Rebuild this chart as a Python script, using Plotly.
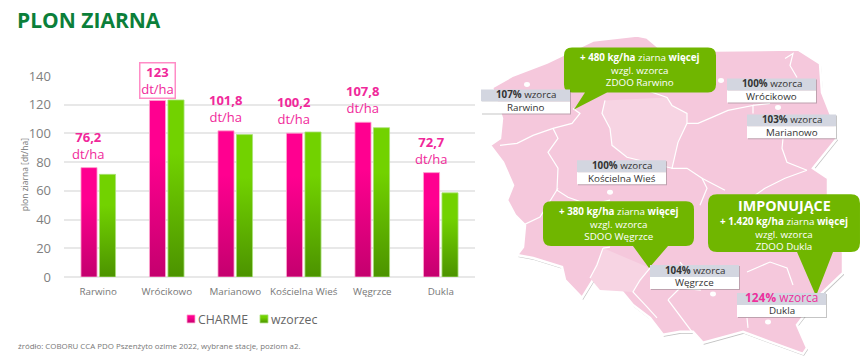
import plotly.graph_objects as go

# ---- data ----
stations = ["Rarwino", "Wrócikowo", "Marianowo", "Kościelna Wieś", "Węgrzce", "Dukla"]
charme = [76.2, 123, 101.8, 100.2, 107.8, 72.7]
wzorzec = [71.5, 123.3, 99.2, 101, 104, 58.6]
charme_labels = ["76,2", "123", "101,8", "100,2", "107,8", "72,7"]
y_ticks = [0, 20, 40, 60, 80, 100, 120, 140]

# map call-out boxes: pct, name, left, top
map_pct = ["107%", "100%", "103%", "100%", "104%", "124%"]
map_names = ["Rarwino", "Wrócikowo", "Marianowo", "Kościelna Wieś", "Węgrzce", "Dukla"]
map_left = [481, 727, 747, 577, 650, 737]
map_top = [89, 78, 114, 160, 265, 293]

FONT = "Open Sans"
L, R, T, B = 64, 475, 75.5, 277
W, H = R - L, B - T
def px(x): return (x - L) / W
def py(y): return 1 - (y - T) / H
def poly(pts, close=True):
    s = "M " + " L ".join(f"{px(x):.4f},{py(y):.4f}" for x, y in pts)
    return s + (" Z" if close else "")

outline = [(492,87),(513,75),(547,62),(593,40),(637,35),(647,37),(660,48),(715,50),(798,49),(820,63),(822,92),
           (835,125),(837,138),(813,168),(828,178),(828,195),(843,253),(843,273),(820,295),(797,325),(807,348),
           (803,354),(770,342),(743,332),(703,343),(693,332),(680,332),(663,335),(650,318),(633,305),(618,287),
           (593,280),(582,298),(565,280),(562,267),(533,258),(517,255),(523,247),(525,225),(515,215),(507,200),
           (513,185),(503,162),(490,145),(500,138),(502,118)]
regions = [
    [(573,108),(580,113),(572,123),(553,128),(533,135),(517,143),(500,145)],
    [(553,128),(558,138),(548,152),(558,168),(557,190),(568,197),(590,205),(610,200)],
    [(605,100),(602,113),(610,128),(612,145),(627,157),(672,168)],
    [(647,90),(667,97),(672,105),(687,113),(687,123),(678,142),(672,168),(687,168),(702,178),(707,188),(700,205)],
    [(687,123),(698,123),(712,117),(728,110),(753,105),(753,113)],
    [(753,105),(770,103)],
    [(785,58),(793,53),(790,65),(797,77)],
    [(783,138),(782,148),(787,162),(807,170)],
    [(807,170),(785,178),(765,188),(755,195)],
    [(523,225),(540,217),(558,188)],
    [(603,248),(597,265),(590,278)],
    [(610,247),(603,248)],
    [(650,268),(640,280),(633,292),(647,307),(657,318)],
    [(668,300),(680,288),(700,290),(690,275),(680,262)],
    [(747,272),(770,262),(787,268),(793,285)],
    [(747,318),(748,328)],
    [(692,332),(668,300)],
    [(702,178),(725,190)],
]
light_zone = [(605,100),(667,97),(672,105),(687,113),(687,123),(678,142),(672,168),(627,157),(612,145),(610,128),(602,113)]
light_zone2 = [(603,248),(650,268),(633,292),(600,290),(590,278)]
cities = [(527,84),(721,80),(778,107),(610,192),(713,294),(768,322)]

def rounded(x0, y0, x1, y1, r, tail):
    """Rounded box with a tail on the lower edge: tail = (base_left, base_right, tip_x, tip_y)."""
    bl, br, tx, ty = tail
    f = lambda x, y: f"{px(x):.4f},{py(y):.4f}"
    return (f"M {f(x0+r,y0)} L {f(x1-r,y0)} Q {f(x1,y0)} {f(x1,y0+r)} L {f(x1,y1-r)} Q {f(x1,y1)} {f(x1-r,y1)} "
            f"L {f(br,y1)} L {f(tx,ty)} L {f(bl,y1)} L {f(x0+r,y1)} Q {f(x0,y1)} {f(x0,y1-r)} L {f(x0,y0+r)} Q {f(x0,y0)} {f(x0+r,y0)} Z")

shapes = []
def sh(**k):
    k.setdefault("xref", "paper"); k.setdefault("yref", "paper"); k.setdefault("layer", "above")
    shapes.append(k)

# map body
sh(type="path", path=poly([(x+1, y+2) for x, y in outline]), fillcolor="rgba(120,120,120,0.45)", line=dict(width=0))
sh(type="path", path=poly(outline), fillcolor="#f5c8dc", line=dict(color="white", width=2.5))
sh(type="path", path=poly(light_zone), fillcolor="#f7d4e3", line=dict(width=0))
sh(type="path", path=poly(light_zone2), fillcolor="#f7d4e3", line=dict(width=0))
for r_ in regions:
    sh(type="path", path=poly(r_, close=False), line=dict(color="white", width=1.2))
for cx, cy in cities:
    sh(type="circle", x0=px(cx-3), x1=px(cx+3), y0=py(cy+2.5), y1=py(cy-2.5), fillcolor="white", line=dict(width=0))

# green bubbles
GREEN = "#70b600"
sh(type="path", path=rounded(564, 47, 716, 92, 8, (585, 607, 574, 109)), fillcolor=GREEN, line=dict(width=0))
sh(type="path", path=rounded(543, 201, 694, 246, 8, (633, 668, 649, 268)), fillcolor=GREEN, line=dict(width=0))
sh(type="path", path=rounded(708, 194, 860, 252, 9, (797, 833, 816, 296)), fillcolor=GREEN, line=dict(width=0))

anns = []
def txt(text, x, y, size, color, anchor="center"):
    anns.append(dict(text=text, x=px(x), y=py(y), xref="paper", yref="paper", showarrow=False,
                     xanchor=anchor, yanchor="middle", font=dict(family=FONT, size=size, color=color)))

# map label boxes
for pct, name, x, y in zip(map_pct, map_names, map_left, map_top):
    sh(type="rect", x0=px(x+1), x1=px(x+90), y0=py(y+25), y1=py(y+1), fillcolor="rgba(90,90,90,0.35)", line=dict(width=0))
    sh(type="rect", x0=px(x), x1=px(x+89), y0=py(y+12), y1=py(y), fillcolor="#d3d6e0", line=dict(width=0))
    sh(type="rect", x0=px(x), x1=px(x+89), y0=py(y+24), y1=py(y+12), fillcolor="white", line=dict(width=0))
    if pct == "124%":
        txt(f"<b>{pct}</b> wzorca", x+44.5, y+4.5, 11.9, "#ef2f9b")
    else:
        txt(f"<b>{pct}</b> wzorca", x+44.5, y+5.5, 9.8, "#333333")
    txt(name, x+44.5, y+18, 9.8, "#333333")

# bubble text
txt("<b>+ 480 kg/ha</b> ziarna <b>więcej</b><br>wzgl. wzorca<br>ZDOO Rarwino", 640, 69.5, 9.8, "white")
txt("<b>+ 380 kg/ha</b> ziarna <b>więcej</b><br>wzgl. wzorca<br>SDOO Węgrzce", 618.5, 223.5, 9.8, "white")
txt("<b>IMPONUJĄCE</b>", 784, 205.5, 14.3, "white")
txt("<b>+ 1.420 kg/ha</b> ziarna <b>więcej</b><br>wzgl. wzorca<br>ZDOO Dukla", 784, 233.5, 9.8, "white")

# value labels above CHARME bars
for st, v, lab in zip(stations, charme, charme_labels):
    boxed = lab == "123"
    a = dict(
        x=st, y=v, xref="x", yref="y", xshift=-9.7, yshift=3, showarrow=False, yanchor="bottom", xanchor="center",
        text=f"<b>{lab}</b><br>dt/ha", align="center", font=dict(family=FONT, size=13, color="#f0289a"),
    )
    if boxed:
        a.update(bordercolor="#ff8cc6", borderwidth=1.5, borderpad=0, width=34, height=34, yshift=1.5, valign="middle")
    anns.append(a)

# axis title and source note
anns.append(dict(text="plon ziarna [dt/ha]", x=px(24), y=py(175), xref="paper", yref="paper", showarrow=False, textangle=-90,
                 xanchor="center", yanchor="middle", font=dict(family=FONT, size=8.5, color="#777777")))
txt("źródło: COBORU CCA PDO Pszenżyto ozime 2022, wybrane stacje, poziom a2.", 16, 346, 7.9, "#777777", "left")

fig = go.Figure()
fig.add_bar(name="CHARME", x=stations, y=charme, marker=dict(color="#f0008a", line=dict(color="rgba(255,170,210,0.8)", width=1)))
fig.add_bar(name="wzorzec", x=stations, y=wzorzec, marker=dict(color="#64bc00", line=dict(color="rgba(170,225,120,0.8)", width=1)))
fig.update_layout(
    width=860, height=360, autosize=False,
    margin=dict(l=L, r=860-R, t=T, b=360-B, pad=0),
    paper_bgcolor="white", plot_bgcolor="white",
    barmode="group", bargap=0.46, bargroupgap=0.13,
    title=dict(text="<b>PLON ZIARNA</b>", x=17/860, xref="container", xanchor="left", y=1-21/360, yref="container", yanchor="middle",
               font=dict(family=FONT, size=21, color="#0b7f3a")),
    font=dict(family=FONT),
    showlegend=True,
    legend=dict(orientation="h", x=px(171), y=py(319), xanchor="left", yanchor="middle", font=dict(family=FONT, size=12.3, color="#666666"),
                itemwidth=30, tracegroupgap=0, bgcolor="rgba(0,0,0,0)"),
    shapes=shapes, annotations=anns,
)
fig.update_xaxes(showgrid=False, showline=False, zeroline=False, ticks="", tickfont=dict(family=FONT, size=9.8, color="#777777"), ticklabelstandoff=7)
fig.update_yaxes(range=[0, 140], tickvals=y_ticks, showgrid=True, gridcolor="#e8e8e8", gridwidth=2, zeroline=True, zerolinecolor="#e8e8e8", zerolinewidth=2,
                 ticks="", ticklabelstandoff=12, tickfont=dict(family=FONT, size=13, color="#808080"))

post = """
document.documentElement.style.margin = '0';
document.documentElement.style.overflow = 'hidden';
document.body.style.margin = '0';
var gd = document.getElementById('{plot_id}');
var svg = gd.querySelector('svg.main-svg');
var ns = 'http://www.w3.org/2000/svg';
function grad(id, a, b) {
  var g = document.createElementNS(ns, 'linearGradient');
  g.setAttribute('id', id); g.setAttribute('x1', 0); g.setAttribute('y1', 0); g.setAttribute('x2', 0); g.setAttribute('y2', 1);
  [[0.0, a], [0.3, a], [1, b]].forEach(function (s) {
    var st = document.createElementNS(ns, 'stop'); st.setAttribute('offset', s[0]); st.setAttribute('stop-color', s[1]); g.appendChild(st);
  });
  svg.querySelector('defs').appendChild(g);
}
grad('gradPink', '#ff0090', '#c4006e');
grad('gradGreen', '#72d200', '#4c9300');
var ids = ['gradPink', 'gradGreen'];
gd.querySelectorAll('.barlayer .trace.bars').forEach(function (t, i) {
  t.querySelectorAll('.point path').forEach(function (p) { p.style.setProperty('fill', 'url(#' + ids[i] + ')', 'important'); });
});
gd.querySelectorAll('.legend .traces').forEach(function (t, i) {
  t.querySelectorAll('.legendpoints path').forEach(function (p) {
    p.style.setProperty('fill', 'url(#' + ids[i] + ')', 'important');
    p.setAttribute('d', 'M4,4H-4V-4H4Z');
  });
  var lt = t.querySelector('.legendtext');
  if (lt) lt.setAttribute('x', 27);
  var tr = t.getAttribute('transform') || '';
  var m = tr.match(/translate\\(([-0-9.]+)[ ,]+([-0-9.]+)\\)/);
  if (m && i === 1) t.setAttribute('transform', 'translate(73,' + m[2] + ')');
});
"""
fig.write_html("out.html", post_script=post, config={"displayModeBar": False})
